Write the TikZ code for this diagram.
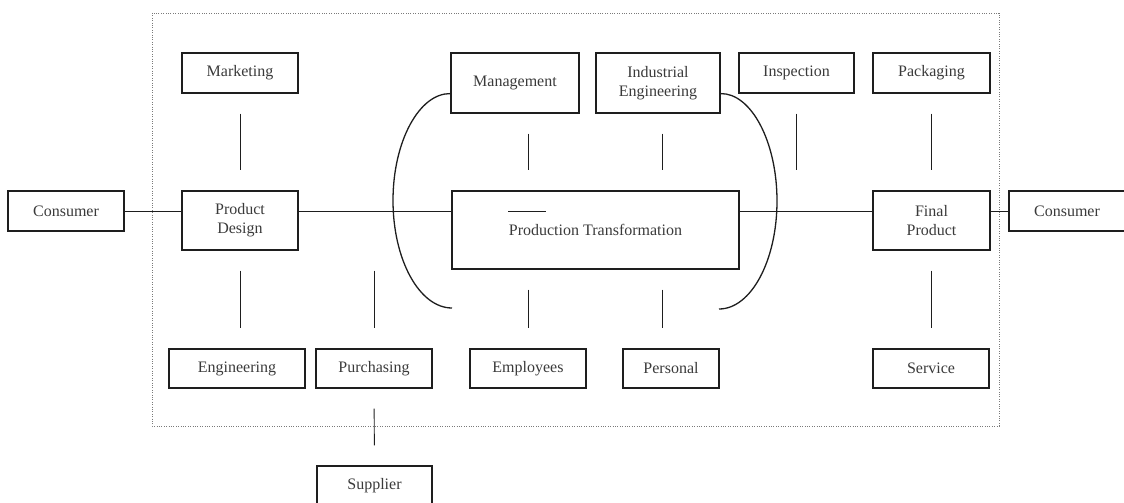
\documentclass[tikz,border=0pt]{standalone}
\usepackage{fontspec}
\setmainfont{Liberation Serif}
\usetikzlibrary{calc}
\definecolor{ink}{HTML}{1E1E1E}
\definecolor{lettering}{HTML}{3A3A3A}
\definecolor{dots}{HTML}{7A7A7A}
\begin{document}
\begin{tikzpicture}[x=1pt,y=-1pt,
  unit/.style={draw=ink,line width=1.2pt,inner sep=0pt,align=center,
    text=lettering,font=\fontsize{16}{19}\selectfont},
  link/.style={draw=ink,line width=0.9pt,shorten <=20pt,shorten >=20pt},
  flow/.style={draw=ink,line width=0.9pt},
  bracket/.style={draw=ink,line width=1.3pt},
  boundary/.style={draw=dots,line width=0.7pt,dash pattern=on 0.8pt off 1.6pt}]
\useasboundingbox (0,0) rectangle (1124,503);
\clip (0,0) rectangle (1124,503);

% system boundary
\draw[boundary] (152,13) rectangle (999,426);

% boxes
\node[unit,minimum width=116pt,minimum height=40pt] (cons1) at (66,211) {Consumer};
\node[unit,minimum width=116pt,minimum height=40pt] (mkt) at (240,73) {Marketing};
\node[unit,minimum width=116pt,minimum height=59pt] (pd) at (240,220.5) {Product\\Design};
\node[unit,minimum width=136pt,minimum height=39pt] (eng) at (237,368.5) {Engineering};
\node[unit,minimum width=116pt,minimum height=39pt] (pur) at (374,368.5) {Purchasing};
\node[unit,minimum width=115pt,minimum height=40pt] (sup) at (374.5,486) {Supplier};
\node[unit,minimum width=128pt,minimum height=60pt] (mgmt) at (515,83) {Management};
\node[unit,minimum width=124pt,minimum height=60pt] (ie) at (658,83) {Industrial\\Engineering};
\node[unit,minimum width=287pt,minimum height=78pt] (pt) at (595.5,230) {Production Transformation};
\node[unit,minimum width=116pt,minimum height=39pt] (emp) at (528,368.5) {Employees};
\node[unit,minimum width=96pt,minimum height=39pt] (pers) at (671,368.5) {Personal};
\node[unit,minimum width=115pt,minimum height=40pt] (insp) at (796.5,73) {Inspection};
\node[unit,minimum width=117pt,minimum height=40pt] (pack) at (931.5,73) {Packaging};
\node[unit,minimum width=117pt,minimum height=59pt] (fp) at (931.5,220.5) {Final\\Product};
\node[unit,minimum width=116pt,minimum height=39pt] (serv) at (931,368.5) {Service};
\node[unit,minimum width=116pt,minimum height=40pt] (cons2) at (1067,211) {Consumer};

% column of the right-hand vertical links
\coordinate (colr) at (662.5,0);

% main flow line
\draw[flow] (cons1.east) -- (cons1.east -| pd.west);
\draw[flow] (pd.east |- cons1.east) -- (pt.west |- cons1.east);
\draw[flow] (pt.east |- cons1.east) -- (fp.west |- cons1.east);
\draw[flow] (fp.east |- cons2.west) -- (cons2.west);
\draw[flow] ($(pt.west |- cons1.east)+(57,0)$) -- +(38,0);

% vertical links with gaps at both ends
\draw[link] (mkt.south) -- (pd.north);
\draw[link] (mgmt.south -| emp.north) -- (pt.north -| emp.north);
\draw[link] (ie.south -| colr) -- (pt.north -| colr);
\draw[link] (insp.south) -- (insp.south |- fp.north);
\draw[link] (pack.south) -- (fp.north);
\draw[link] (pd.south) -- (pd.south |- eng.north);
\draw[link] (pur.north |- pd.south) -- (pur.north);
\draw[link] (pt.south -| emp.north) -- (emp.north);
\draw[link] (pt.south -| colr) -- (pers.north -| colr);
\draw[link] (fp.south) -- (fp.south |- serv.north);
\draw[link] (pur.south) -- (sup.north);

% brackets round the transformation core
\draw[bracket] ($(mgmt.south west)+(0,-20)$) .. controls (419.4,93) and (393,141.2) .. (393,200.5)
  .. controls (393,259.8) and (419.4,308) .. (452,308);
\draw[bracket] ($(ie.south east)+(0,-20)$) .. controls (751,93) and (777,141.4) .. (777,201)
  .. controls (777,260.6) and (751,309) .. (719,309);
\end{tikzpicture}
\end{document}
